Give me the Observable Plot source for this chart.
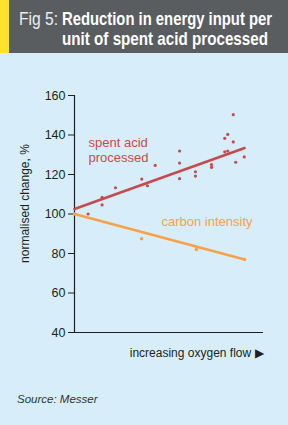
<!DOCTYPE html>
<html><head><meta charset="utf-8">
<script src="https://cdn.jsdelivr.net/npm/d3@7"></script>
<script src="https://cdn.jsdelivr.net/npm/@observablehq/plot@0.6"></script>
<style>
html,body{margin:0;padding:0;}
body{width:288px;height:425px;background:#d7eefa;position:relative;overflow:hidden;font-family:"Liberation Sans",Arial,sans-serif;}
#hdr{position:absolute;left:0;top:0;width:288px;height:53px;background:#5a5d60;}
#stripe{position:absolute;left:0;top:0;width:9px;height:53px;background:#fde22d;}
.h{position:absolute;color:#fff;font-size:19px;line-height:19px;white-space:nowrap;transform-origin:0 0;font-family:"Liberation Sans",Arial,sans-serif;}
#fig{left:19px;top:9px;font-weight:normal;color:#eeeeee;}
#t1{left:62px;top:9px;font-weight:bold;}
#t2{left:62px;top:29px;font-weight:bold;}
#chart{position:absolute;left:0;top:53px;}
#src{position:absolute;left:17px;top:393px;font-size:11.5px;font-style:italic;color:#333;}
</style></head>
<body>
<div id="hdr"><div id="stripe"></div>
<div class="h" id="fig">Fig 5:</div>
<div class="h" id="t1">Reduction in energy input per</div>
<div class="h" id="t2">unit of spent acid processed</div>
</div>
<div id="chart"></div>
<div id="src">Source: Messer</div>
<script>
// Data (x = position along "increasing oxygen flow", arbitrary 0–10)
const yTicks = [40, 60, 80, 100, 120, 140, 160];
const spentX = [0.72,1.46,1.46,2.17,3.56,3.86,4.27,5.56,5.56,5.56,6.40,6.40,7.25,7.25,7.95,8.11,7.95,8.11,8.40,8.40,8.53,8.98];
const spentY = [100.0,108.4,104.6,113.3,117.7,114.3,124.6,131.9,125.8,117.9,121.4,119.2,125.0,123.6,138.3,140.3,131.5,131.9,150.3,136.5,126.2,128.9];
const spentFitX = [0, 9];
const spentFitY = [102.5, 133.4];
const carbonX = [0, 3.55, 6.45, 9.0];
const carbonY = [100, 87.5, 82, 77];
const carbonFitX = [0, 9];
const carbonFitY = [100, 77];
const labels = [
  {text: "spent acid", x: 0.74, y: 134, color: "red"},
  {text: "processed", x: 0.74, y: 126.4, color: "red"},
  {text: "carbon intensity", x: 4.6, y: 93.7, color: "orange"}
];
const yLabel = [{text: "normalised change, %", y: 105.3}];

// condensed header type: squeeze each line to the width it has in the reference
[["fig", 39], ["t1", 210], ["t2", 206]].forEach(([id, w]) => {
  const el = document.getElementById(id);
  const cw = el.getBoundingClientRect().width;
  el.style.transform = `scaleX(${w / cw})`;
});

const RED = "#c84a4c", ORANGE = "#f9a04a", INK = "#231f20";
const spent = spentX.map((x, i) => ({x, y: spentY[i]}));
const spentFit = spentFitX.map((x, i) => ({x, y: spentFitY[i]}));
const carbon = carbonX.map((x, i) => ({x, y: carbonY[i]}));
const carbonFit = carbonFitX.map((x, i) => ({x, y: carbonFitY[i]}));

const chart = Plot.plot({
  width: 288, height: 317,
  marginTop: 42, marginBottom: 38, marginLeft: 74, marginRight: 25,
  style: {background: "transparent", fontFamily: "'Liberation Sans', Arial, sans-serif", fontSize: "12.5px", color: INK},
  x: {domain: [0, 10], axis: null},
  y: {domain: [40, 160], axis: null},
  marks: [
    Plot.axisY({ticks: yTicks, tickSize: 6, tickPadding: 3, label: null, fontSize: 12.5, stroke: INK, fill: INK}),
    Plot.ruleX([0], {stroke: INK, strokeWidth: 1.2}),
    Plot.ruleY([40], {stroke: INK, strokeWidth: 1.2}),
    Plot.line(carbonFit, {x: "x", y: "y", stroke: ORANGE, strokeWidth: 2.6}),
    Plot.dot(carbon, {x: "x", y: "y", r: 1.7, fill: ORANGE}),
    Plot.line(spentFit, {x: "x", y: "y", stroke: RED, strokeWidth: 2.6}),
    Plot.dot(spent, {x: "x", y: "y", r: 1.6, fill: RED}),
    Plot.text(labels, {x: "x", y: "y", text: "text", textAnchor: "start", lineAnchor: "bottom", fontSize: 13,
      fill: d => d.color === "red" ? RED : ORANGE}),
    Plot.text(yLabel, {y: "y", text: "text", frameAnchor: "left", textAnchor: "middle", rotate: -90, dx: -49, fontSize: 12, fill: INK}),
    Plot.text(["increasing oxygen flow ▶"], {frameAnchor: "bottom-right", textAnchor: "end", lineAnchor: "bottom", dy: 24, fontSize: 12, fill: INK})
  ]
});
document.getElementById("chart").appendChild(chart);
</script>
</body></html>
